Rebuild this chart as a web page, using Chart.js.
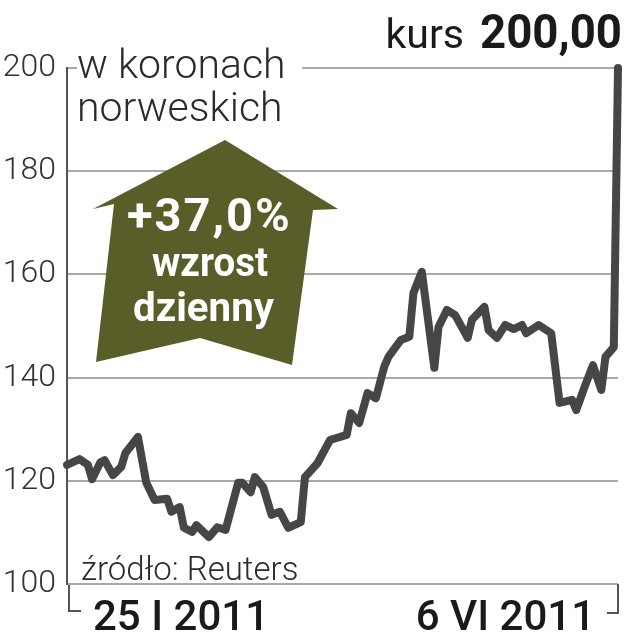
<!DOCTYPE html>
<html>
<head>
<meta charset="utf-8">
<script src="https://cdn.jsdelivr.net/npm/chart.js"></script>
<style>
  html, body { margin: 0; padding: 0; background: #fff; }
  #wrap { width: 627px; height: 640px; }
</style>
</head>
<body>
<div id="wrap"><canvas id="chart" width="627" height="640"></canvas></div>
<script>
// days since 25 I 2011
const days = [0, 3, 5, 6, 8, 9, 11, 13, 14, 17, 18, 19, 21, 24, 25, 27, 28, 30, 31, 34,
  36, 38, 41, 42, 44, 45, 47, 49, 51, 53, 56, 57, 60, 63, 67, 68, 70, 72, 74, 76,
  77, 80, 82, 83, 85, 88, 89, 91, 93, 96, 97, 100, 101, 103, 105, 107, 109, 110, 113, 116,
  118, 121, 122, 124, 126, 128, 129, 131, 132];
// kurs w koronach norweskich
const kurs = [123.1, 124.2, 123.1, 120.3, 123.6, 124.0, 121.1, 122.7, 125.4, 128.5, 124.0, 119.6, 116.3, 116.5, 114.0, 114.9, 110.9, 110.1, 111.4, 109.1,
  111.0, 110.5, 119.6, 119.6, 117.8, 120.7, 118.8, 113.4, 114.0, 110.9, 112.0, 120.7, 123.4, 127.9, 128.9, 133.1, 131.2, 137.0, 136.0, 142.1,
  144.0, 147.3, 147.9, 156.4, 160.5, 141.9, 149.8, 153.1, 152.1, 147.7, 151.2, 153.7, 149.2, 147.7, 150.2, 149.4, 150.2, 148.6, 150.2, 148.6,
  135.1, 135.7, 133.7, 138.2, 142.4, 137.6, 144.0, 145.9, 200.0];
const yTicks = [100, 120, 140, 160, 180, 200];
const xLabels = ['25 I 2011', '6 VI 2011'];
const unitText = ['w koronach', 'norweskich'];
const kursLabel = 'kurs';
const kursValue = '200,00';
const badgeText = ['+37,0%', 'wzrost', 'dzienny'];
const sourceText = 'źródło: Reuters';

const FONT = 'Roboto, "DejaVu Sans", sans-serif';

const decor = {
  id: 'decor',
  beforeDatasetsDraw(chart) {
    const ctx = chart.ctx;
    // green arrow
    ctx.save();
    ctx.fillStyle = '#595d28';
    ctx.beginPath();
    ctx.moveTo(225, 140);
    ctx.lineTo(338, 209);
    ctx.lineTo(313, 210);
    ctx.lineTo(292, 365);
    ctx.lineTo(200, 338);
    ctx.lineTo(96, 362);
    ctx.lineTo(114, 204);
    ctx.lineTo(93, 209);
    ctx.closePath();
    ctx.fill();

    ctx.fillStyle = '#ffffff';
    ctx.textBaseline = 'alphabetic';
    ctx.textAlign = 'left';
    ctx.letterSpacing = '2px';
    ctx.font = 'bold 47px ' + FONT;
    ctx.fillText(badgeText[0], 127, 231, 177);
    ctx.letterSpacing = '0px';
    ctx.font = 'bold 41px ' + FONT;
    ctx.fillText(badgeText[1], 152, 276, 116);
    ctx.fillText(badgeText[2], 133, 321, 141);
    ctx.restore();
  },
  afterDraw(chart) {
    const ctx = chart.ctx;
    const a = chart.chartArea;
    ctx.save();
    // unit text on white ground over the top gridline
    ctx.fillStyle = '#ffffff';
    ctx.fillRect(a.left + 10, a.top - 5, 225, 10);
    ctx.fillStyle = '#2b2b2b';
    ctx.font = '300 41px ' + FONT;
    ctx.textAlign = 'left';
    ctx.fillText(unitText[0], 77, 78);
    ctx.fillText(unitText[1], 77, 121);

    // kurs 200,00
    ctx.fillStyle = '#1a1a1a';
    ctx.textAlign = 'right';
    ctx.font = 'bold 49px ' + FONT;
    ctx.fillText(kursValue, 622, 48, 142);
    ctx.font = '41px ' + FONT;
    ctx.fillText(kursLabel, 464, 48);

    // source
    ctx.textAlign = 'left';
    ctx.fillStyle = '#2b2b2b';
    ctx.font = '300 33px ' + FONT;
    ctx.fillText(sourceText, 81, 580);

    // date brackets
    ctx.strokeStyle = '#555555';
    ctx.lineWidth = 2;
    ctx.beginPath();
    ctx.moveTo(a.left + 2, a.bottom + 1);
    ctx.lineTo(a.left + 2, a.bottom + 27);
    ctx.lineTo(a.left + 14, a.bottom + 27);
    ctx.moveTo(a.right, a.bottom);
    ctx.lineTo(a.right, a.bottom + 29);
    ctx.lineTo(a.right - 11, a.bottom + 29);
    ctx.stroke();

    // date labels
    ctx.fillStyle = '#1a1a1a';
    ctx.font = '500 42px ' + FONT;
    ctx.textAlign = 'left';
    ctx.fillText(xLabels[0], 93, 630);
    ctx.textAlign = 'right';
    ctx.fillText(xLabels[1], 595, 630);
    ctx.restore();
  }
};

new Chart(document.getElementById('chart'), {
  type: 'line',
  data: {
    datasets: [{
      data: days.map((d, i) => ({ x: d, y: kurs[i] })),
      borderColor: '#464646',
      borderWidth: 8,
      borderJoinStyle: 'round',
      borderCapStyle: 'round',
      pointRadius: 0,
      tension: 0,
      clip: false
    }]
  },
  options: {
    responsive: false,
    animation: false,
    layout: { padding: { left: 0, top: 68, right: 9, bottom: 56 } },
    plugins: { legend: { display: false }, tooltip: { enabled: false } },
    scales: {
      x: { type: 'linear', min: 0, max: 132, display: false },
      y: {
        min: 100,
        max: 200,
        afterFit(scale) { scale.width = 67; },
        afterBuildTicks(scale) { scale.ticks = yTicks.map(v => ({ value: v })); },
        grid: { color: '#a9a9a9', lineWidth: 2, drawTicks: false },
        border: { display: true, color: '#555555', width: 2 },
        ticks: {
          padding: 11,
          color: '#333333',
          font: { family: FONT, size: 32, weight: '300' }
        }
      }
    }
  },
  plugins: [decor]
});
</script>
</body>
</html>
